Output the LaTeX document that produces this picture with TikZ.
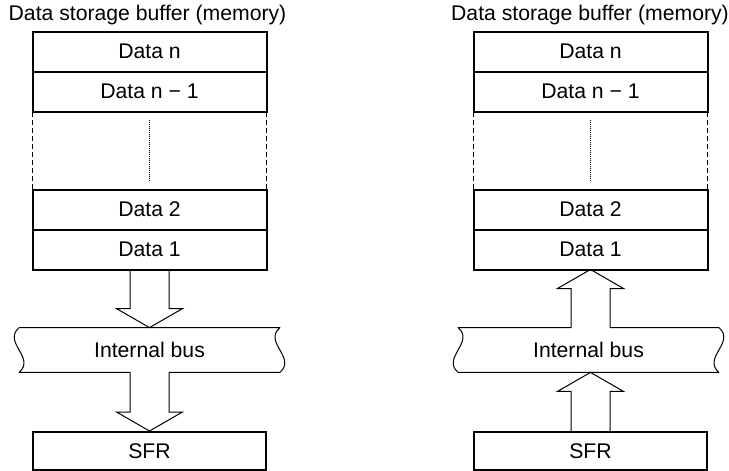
\documentclass[tikz,border=0pt]{standalone}
\usepackage{fontspec}
\setmainfont{Liberation Sans}
\usetikzlibrary{positioning,calc}

\begin{document}
\begin{tikzpicture}[
  x=0.5pt, y=-0.5pt,
  font=\fontsize{10.6}{12}\selectfont,
  cell/.style={
    draw, line width=0.5pt, inner sep=0pt,
    minimum width=116.5pt, minimum height=19.5pt
  },
  frame/.style   ={draw, line width=1pt},
  sidedash/.style={line width=0.6pt, dash pattern=on 2.5pt off 1.5pt},
  dotline/.style ={line width=0.6pt, dash pattern=on 0.5pt off 0.5pt},
  bus/.style     ={inner sep=0pt, minimum width=130pt, minimum height=22pt},
  busline/.style ={line width=0.5pt, line join=round},
  barrow/.style  ={line width=0.5pt, line join=miter},
  title/.style   ={anchor=base, inner sep=0pt}
]
\useasboundingbox (0,0) rectangle (729,471);

% =================== LEFT: MEMORY -> SFR ===================
\node[title] (titleL) at (147.5,20) {Data storage buffer (memory)};

\node[cell] (dnL) at (149.5,51.5) {Data n};
\node[cell, below=0pt of dnL] (dn1L) {Data n − 1};
\node[cell] (d2L) at (149.5,209.5) {Data 2};
\node[cell, below=0pt of d2L] (d1L) {Data 1};
\node[bus] (busL) at (149.5,350) {Internal bus};
\node[cell, minimum height=19pt, line width=1pt] (sfrL) at (149.5,451) {SFR};

\draw[frame] (dnL.north west) rectangle (dn1L.south east);
\draw[frame] (d2L.north west) rectangle (d1L.south east);
\draw[sidedash] (dn1L.south west) -- (d2L.north west);
\draw[sidedash] (dn1L.south east) -- (d2L.north east);
\draw[dotline] ([yshift=-4pt]dn1L.south) -- ([yshift=4pt]d2L.north);

% bus outline (open at the bottom where the shaft leaves)
\draw[busline] ([xshift=-9.75pt]busL.south) -- (busL.south west)
  .. controls +(8.5pt,7.33pt) and +(-8.5pt,-7.33pt) .. (busL.north west)
  -- (busL.north east)
  .. controls +(-8.5pt,-7.33pt) and +(8.5pt,7.33pt) .. (busL.south east)
  -- ([xshift=9.75pt]busL.south);

% block arrows, downward
\draw[barrow] ([xshift=-9.75pt]d1L.south) -- ([xshift=-9.75pt,yshift=9.5pt]busL.north)
  -- ([xshift=-16.5pt,yshift=9.5pt]busL.north) -- (busL.north)
  -- ([xshift=16.5pt,yshift=9.5pt]busL.north) -- ([xshift=9.75pt,yshift=9.5pt]busL.north)
  -- ([xshift=9.75pt]d1L.south);
\draw[barrow] ([xshift=-9.75pt]busL.south) -- ([xshift=-9.75pt,yshift=9.5pt]sfrL.north)
  -- ([xshift=-16.5pt,yshift=9.5pt]sfrL.north) -- (sfrL.north)
  -- ([xshift=16.5pt,yshift=9.5pt]sfrL.north) -- ([xshift=9.75pt,yshift=9.5pt]sfrL.north)
  -- ([xshift=9.75pt]busL.south);

% =================== RIGHT: SFR -> MEMORY ===================
\node[title] (titleR) at (590,20) {Data storage buffer (memory)};

\node[cell] (dnR) at (590.5,51.5) {Data n};
\node[cell, below=0pt of dnR] (dn1R) {Data n − 1};
\node[cell] (d2R) at (590.5,209.5) {Data 2};
\node[cell, below=0pt of d2R] (d1R) {Data 1};
\node[bus] (busR) at (588.5,350) {Internal bus};
\node[cell, minimum height=19pt, line width=1pt] (sfrR) at (590.5,451) {SFR};

\draw[frame] (dnR.north west) rectangle (dn1R.south east);
\draw[frame] (d2R.north west) rectangle (d1R.south east);
\draw[sidedash] (dn1R.south west) -- (d2R.north west);
\draw[sidedash] (dn1R.south east) -- (d2R.north east);
\draw[dotline] ([yshift=-4pt]dn1R.south) -- ([yshift=4pt]d2R.north);

% bus outline (open at the top where the shaft leaves)
\draw[busline] ([xshift=9.75pt]busR.north -| d1R.south) -- (busR.north east)
  .. controls +(8.5pt,-7.33pt) and +(-8.5pt,7.33pt) .. (busR.south east)
  -- (busR.south west)
  .. controls +(-8.5pt,7.33pt) and +(8.5pt,-7.33pt) .. (busR.north west)
  -- ([xshift=-9.75pt]busR.north -| d1R.south);

% block arrows, upward
\draw[barrow] ([xshift=-9.75pt]busR.north -| d1R.south) -- ([xshift=-9.75pt,yshift=-9.5pt]d1R.south)
  -- ([xshift=-16.5pt,yshift=-9.5pt]d1R.south) -- (d1R.south)
  -- ([xshift=16.5pt,yshift=-9.5pt]d1R.south) -- ([xshift=9.75pt,yshift=-9.5pt]d1R.south)
  -- ([xshift=9.75pt]busR.north -| d1R.south);
\draw[barrow] ([xshift=-9.75pt]sfrR.north) -- ([xshift=-9.75pt,yshift=-9.5pt]busR.south -| sfrR.north)
  -- ([xshift=-16.5pt,yshift=-9.5pt]busR.south -| sfrR.north) -- (busR.south -| sfrR.north)
  -- ([xshift=16.5pt,yshift=-9.5pt]busR.south -| sfrR.north) -- ([xshift=9.75pt,yshift=-9.5pt]busR.south -| sfrR.north)
  -- ([xshift=9.75pt]sfrR.north);

\end{tikzpicture}
\end{document}
